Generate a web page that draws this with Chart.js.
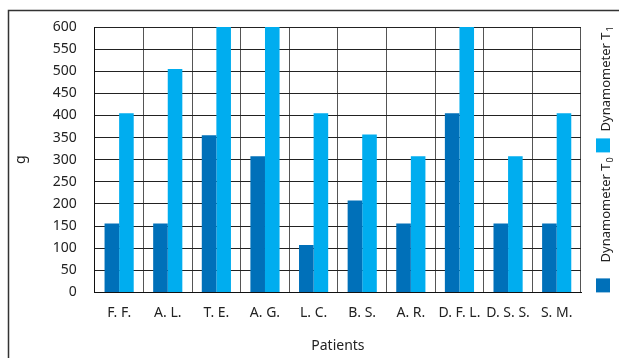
<!DOCTYPE html>
<html>
<head>
<meta charset="utf-8">
<script src="https://cdn.jsdelivr.net/npm/chart.js@4.4.1/dist/chart.umd.min.js"></script>
<style>
  html, body { margin: 0; padding: 0; background: #fff; }
  #wrap { width: 619px; height: 358px; position: relative; }
</style>
</head>
<body>
<div id="wrap"><canvas id="chart"></canvas></div>
<script>
// data
const patients = ["F. F.", "A. L.", "T. E.", "A. G.", "L. C.", "B. S.", "A. R.", "D. F. L.", "D. S. S.", "S. M."];
const dynamometerT0 = [156, 156, 355, 308, 107, 208, 156, 405, 156, 156];
const dynamometerT1 = [405, 505, 600, 600, 405, 357, 308, 600, 308, 405];
const seriesNames = ["Dynamometer T", "Dynamometer T"];
const seriesSubs = ["0", "1"];

const FONT = "'Noto Sans', sans-serif";

// outer frame lines (top and left)
const framePlugin = {
  id: "frame",
  beforeDraw(chart) {
    const ctx = chart.ctx;
    ctx.save();
    ctx.strokeStyle = "#333";
    ctx.lineWidth = 1.5;
    ctx.beginPath();
    ctx.moveTo(8.5, chart.height);
    ctx.lineTo(8.5, 10.5);
    ctx.lineTo(chart.width, 10.5);
    ctx.stroke();
    ctx.restore();
  }
};

// vertical legend on the right side, reading bottom to top
const sideLegend = {
  id: "sideLegend",
  afterDraw(chart) {
    const ctx = chart.ctx;
    const area = chart.chartArea;
    const x = area.right + 15;
    const boxBottoms = [area.bottom, area.bottom - 140];
    const textStarts = [area.bottom - 30, area.bottom - 161];
    ctx.save();
    chart.data.datasets.forEach((ds, i) => {
      ctx.fillStyle = ds.backgroundColor;
      ctx.fillRect(x, boxBottoms[i] - 14, 14, 14);
      ctx.save();
      ctx.translate(x + 14, textStarts[i]);
      ctx.rotate(-Math.PI / 2);
      ctx.fillStyle = "#222";
      ctx.font = "13px " + FONT;
      ctx.textBaseline = "alphabetic";
      ctx.textAlign = "left";
      ctx.fillText(seriesNames[i], 0, 0);
      const w = ctx.measureText(seriesNames[i]).width;
      ctx.font = "9px " + FONT;
      ctx.fillText(seriesSubs[i], w + 1, 3);
      ctx.restore();
    });
    ctx.restore();
  }
};

new Chart(document.getElementById("chart"), {
  type: "bar",
  data: {
    labels: patients,
    datasets: [
      { label: "Dynamometer T0", data: dynamometerT0, backgroundColor: "#0070b9" },
      { label: "Dynamometer T1", data: dynamometerT1, backgroundColor: "#00adef" }
    ]
  },
  options: {
    responsive: true,
    maintainAspectRatio: false,
    animation: false,
    layout: { padding: { left: 9, right: 38, top: 27, bottom: 0 } },
    datasets: { bar: { categoryPercentage: 0.6, barPercentage: 1 } },
    plugins: {
      legend: { display: false },
      tooltip: { enabled: false }
    },
    scales: {
      x: {
        grid: { color: "#555", lineWidth: 1, drawTicks: false },
        border: { color: "#111", width: 1 },
        ticks: { color: "#222", font: { family: FONT, size: 14 }, padding: 12, maxRotation: 0, autoSkip: false },
        title: { display: true, text: "Patients", color: "#222", font: { family: FONT, size: 14 }, padding: { top: 4 } }
      },
      y: {
        min: 0,
        max: 600,
        grid: { color: "#222", lineWidth: 1, drawTicks: false },
        border: { color: "#111", width: 1 },
        ticks: { stepSize: 50, color: "#222", font: { family: FONT, size: 14 }, padding: 18 },
        title: { display: true, text: "g", color: "#222", font: { family: FONT, size: 14 }, padding: { bottom: 5 } }
      }
    }
  },
  plugins: [framePlugin, sideLegend]
});
</script>
</body>
</html>
